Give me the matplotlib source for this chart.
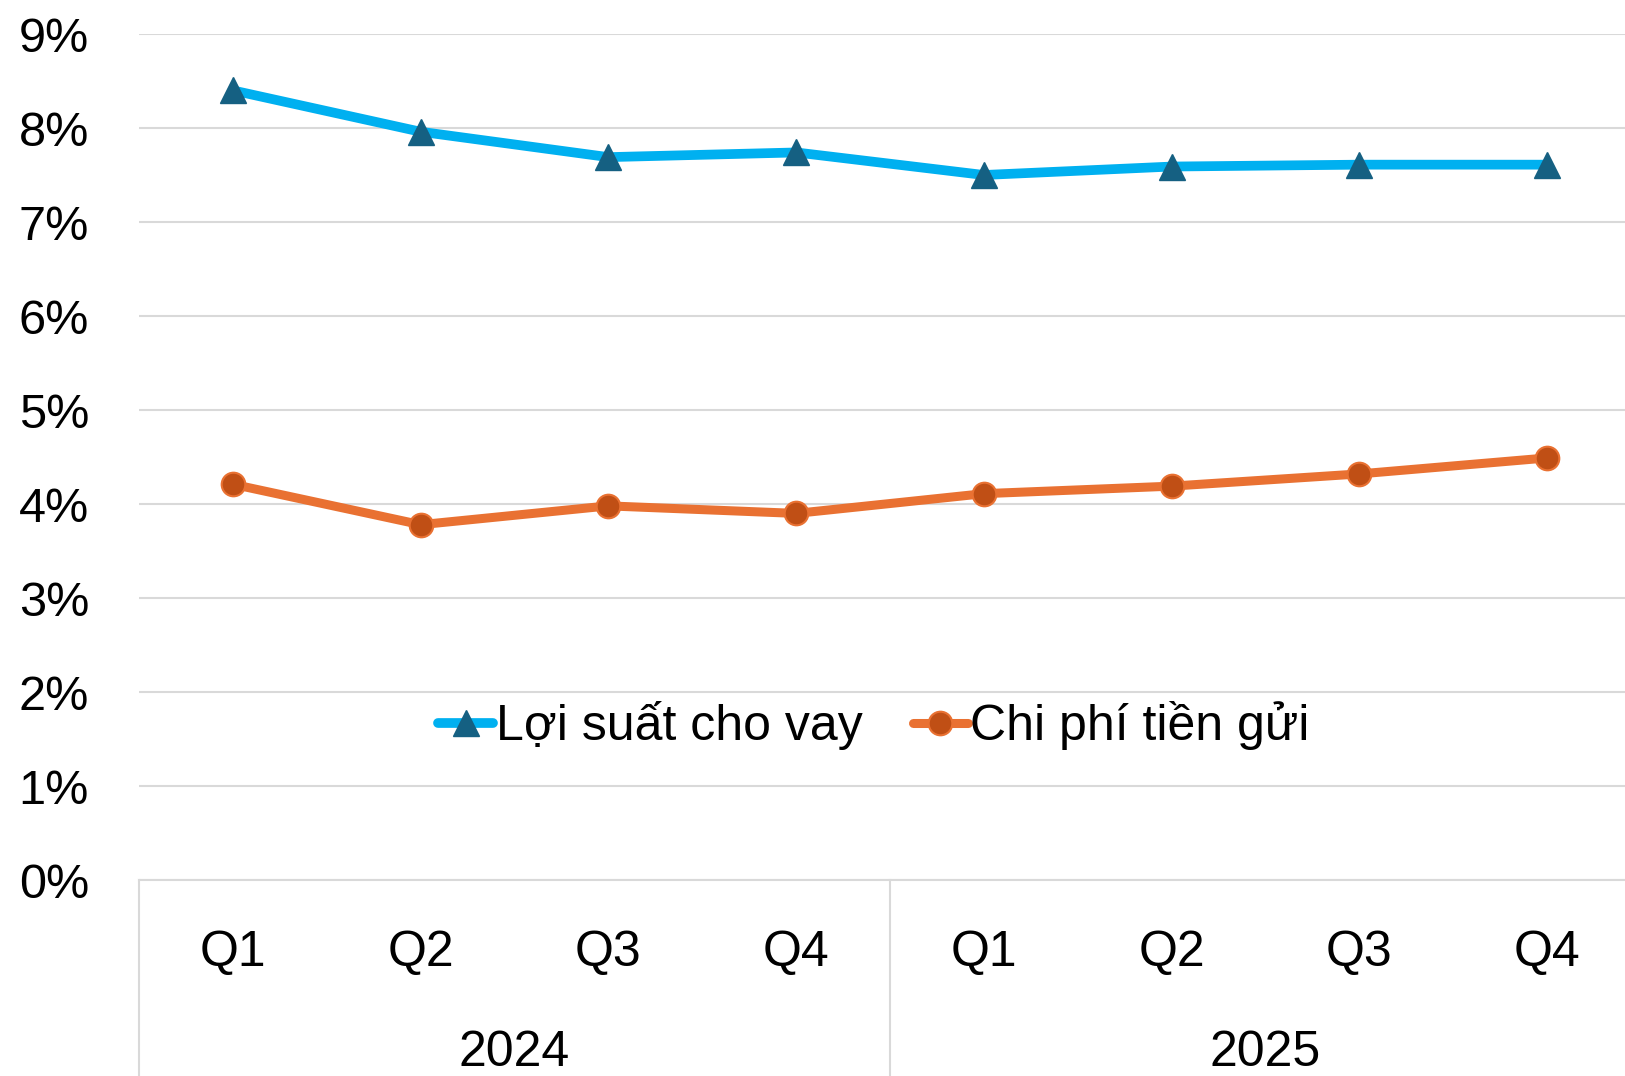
import matplotlib.pyplot as plt
from matplotlib import font_manager
from matplotlib.transforms import blended_transform_factory

QUARTERS = ["Q1", "Q2", "Q3", "Q4", "Q1", "Q2", "Q3", "Q4"]
YEARS = ["2024", "2025"]
LENDING_YIELD = [8.40, 7.96, 7.69, 7.74, 7.50, 7.59, 7.61, 7.61]
DEPOSIT_COST = [4.21, 3.78, 3.98, 3.90, 4.11, 4.19, 4.32, 4.49]
SERIES_NAMES = ["Lợi suất cho vay", "Chi phí tiền gửi"]

installed = {f.name for f in font_manager.fontManager.ttflist}
narrow = "Liberation Sans Narrow" if "Liberation Sans Narrow" in installed else "Liberation Sans"
plt.rcParams["font.family"] = ["Liberation Sans", "DejaVu Sans"]

W, H = 1625, 1076
fig = plt.figure(figsize=(W / 100, H / 100), dpi=100)
left, right = 139 / W, 1641 / W
bottom, top = 1 - 880 / H, 1 - 34 / H
ax = fig.add_axes([left, bottom, right - left, top - bottom])

x = list(range(len(QUARTERS)))
ax.plot(x, LENDING_YIELD, color="#00B0F0", lw=7, marker="^", markersize=19,
        markerfacecolor="#156082", markeredgecolor="#156082", label=SERIES_NAMES[0],
        solid_capstyle="round", zorder=3)
ax.plot(x, DEPOSIT_COST, color="#E97132", lw=6.5, marker="o", markersize=17,
        markerfacecolor="#C04F15", markeredgecolor="#E97132", markeredgewidth=1.5,
        label=SERIES_NAMES[1], solid_capstyle="round", zorder=3)

ax.set_xlim(-0.5, len(QUARTERS) - 0.5)
ax.set_ylim(0, 9)
ax.set_yticks(range(0, 10))
ax.set_yticklabels([f"{v}%" for v in range(0, 10)], fontsize=35)
ax.yaxis.grid(True, color="#d9d9d9", lw=1.5)
ax.set_axisbelow(True)
for side in ["top", "right", "left"]:
    ax.spines[side].set_visible(False)
ax.spines["bottom"].set_color("#d9d9d9")
ax.spines["bottom"].set_linewidth(1.5)
ax.tick_params(axis="y", length=0, pad=36)
ax.set_xticks([])

trans = blended_transform_factory(ax.transData, ax.transAxes)
for i, q in enumerate(QUARTERS):
    ax.text(i, -0.086, q, transform=trans, ha="center", va="center",
            fontsize=36, family=[narrow, "DejaVu Sans"])
for j, year in enumerate(YEARS):
    ax.text(j * 4 + 1.5, -0.205, year, transform=trans, ha="center", va="center",
            fontsize=36, family=[narrow, "DejaVu Sans"])
for pos in [-0.5, 3.5, 7.5]:
    ax.plot([pos, pos], [0, -0.25], transform=trans, color="#d9d9d9", lw=1.5,
            clip_on=False)

ax.legend(loc="center", bbox_to_anchor=(874 / W, 1 - 726 / H),
          bbox_transform=fig.transFigure, ncol=2, frameon=False,
          prop={"family": narrow, "size": 36}, handlelength=1.1,
          handletextpad=0.05, columnspacing=1.0, borderpad=0)

fig.savefig("out.png", dpi=100)
